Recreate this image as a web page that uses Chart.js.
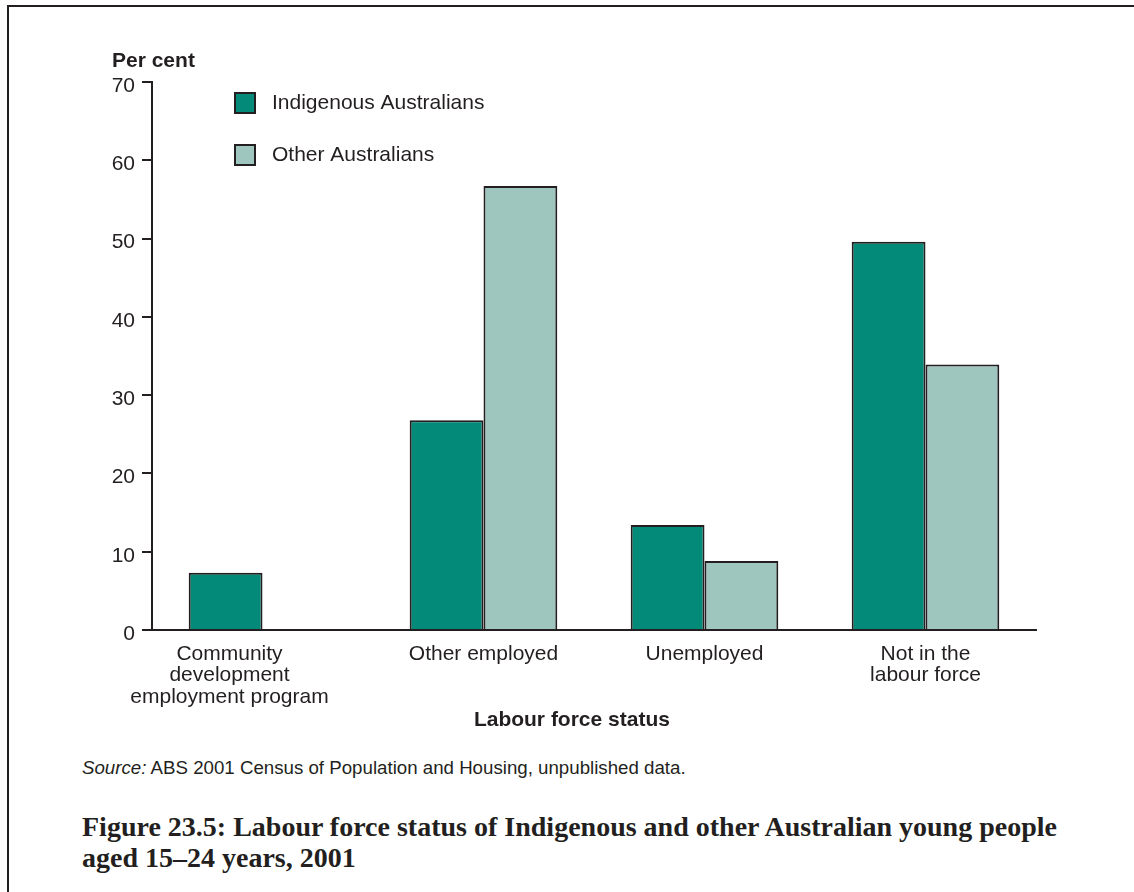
<!DOCTYPE html>
<html>
<head>
<meta charset="utf-8">
<script src="https://cdn.jsdelivr.net/npm/chart.js@4"></script>
<style>
    body { margin: 0; background: #fff; }
    .frame { position: absolute; left: 7px; top: 5px; width: 1140px; height: 900px; border-top: 2px solid #231f20; border-left: 2px solid #231f20; }
    #chartBox { position: absolute; left: 0; top: 0; width: 1134px; height: 740px; }
    .source { position: absolute; left: 82px; top: 757px; font: 18.7px/21px "Liberation Sans", Arial, sans-serif; color: #231f20; }
    .caption { position: absolute; left: 82px; top: 811px; width: 1000px; font: bold 28px/31px "Liberation Serif", "DejaVu Serif", serif; color: #231f20; }
</style>
</head>
<body>
<div class="frame"></div>
<div id="chartBox"><canvas id="labourChart" width="1134" height="740"></canvas></div>
<div class="source"><i>Source:</i> ABS 2001 Census of Population and Housing, unpublished data.</div>
<div class="caption">Figure 23.5: Labour force status of Indigenous and other Australian young people aged 15–24 years, 2001</div>

<script>
const categories = [['Community', 'development', 'employment program'], 'Other employed', 'Unemployed', ['Not in the', 'labour force']];
const seriesNames = ['Indigenous Australians', 'Other Australians'];
const indigenousValues = [7.3, 26.8, 13.4, 49.6];
const otherValues = [0, 56.7, 8.8, 33.9];
const yTicks = [0, 10, 20, 30, 40, 50, 60, 70];

const INK = '#231f20';
const FONT = '"Liberation Sans", Arial, sans-serif';

// legend, category labels, y unit and x title drawn by hand to match the figure layout
const extrasPlugin = {
    id: 'extras',
    afterDraw(chart) {
        const ctx = chart.ctx;
        const area = chart.chartArea;
        const xScale = chart.scales.x;
        ctx.save();
        ctx.fillStyle = INK;
        ctx.font = 'bold 21px ' + FONT;
        ctx.textBaseline = 'middle';
        ctx.textAlign = 'left';
        ctx.fillText('Per cent', 112, 61);

        ctx.textAlign = 'center';
        ctx.fillText('Labour force status', area.left + (area.right - area.left) * 0.475, 720);

        // category labels; the first one sits a little left of its bars in the original
        ctx.font = '21px ' + FONT;
        chart.data.labels.forEach((label, i) => {
            const lines = Array.isArray(label) ? label : [label];
            const x = xScale.getPixelForTick(i) - (i === 0 ? 33 : 0);
            lines.forEach((line, j) => ctx.fillText(line, x, area.bottom + 24 + j * 21.5));
        });

        ctx.textAlign = 'left';
        chart.data.datasets.forEach((ds, i) => {
            const y = 93 + i * 52;
            ctx.fillStyle = ds.backgroundColor;
            ctx.fillRect(235, y, 20, 20);
            ctx.strokeStyle = INK;
            ctx.lineWidth = 2;
            ctx.strokeRect(235, y, 20, 20);
            ctx.fillStyle = INK;
            ctx.fillText(ds.label, 272, y + 10);
        });
        ctx.restore();
    }
};

new Chart(document.getElementById('labourChart'), {
    type: 'bar',
    data: {
        labels: categories,
        datasets: [
            {
                label: seriesNames[0],
                data: indigenousValues,
                backgroundColor: '#048a79',
                borderColor: INK,
                borderWidth: 2
            },
            {
                label: seriesNames[1],
                data: otherValues,
                backgroundColor: '#9fc6be',
                borderColor: INK,
                borderWidth: 2
            }
        ]
    },
    options: {
        responsive: false,
        animation: false,
        layout: { padding: { left: 0, top: 82, right: 98, bottom: 0 } },
        plugins: {
            legend: { display: false },
            tooltip: { enabled: false }
        },
        datasets: {
            bar: { categoryPercentage: 0.668, barPercentage: 1 }
        },
        scales: {
            x: {
                grid: { display: true, drawOnChartArea: false, drawTicks: false },
                border: { display: true, color: INK, width: 2 },
                ticks: { display: false },
                afterFit: (scale) => { scale.height = 740 - 630; }
            },
            y: {
                min: 0,
                max: 70,
                afterBuildTicks: (scale) => { scale.ticks = yTicks.map(v => ({ value: v })); },
                grid: { display: true, drawOnChartArea: false, drawTicks: true, tickLength: 10, color: INK, lineWidth: 2 },
                border: { display: true, color: INK, width: 2 },
                ticks: {
                    color: INK,
                    font: { family: FONT, size: 21 },
                    padding: 7,
                    labelOffset: 4
                },
                afterFit: (scale) => { scale.width = 152; }
            }
        }
    },
    plugins: [extrasPlugin]
});
</script>
</body>
</html>
